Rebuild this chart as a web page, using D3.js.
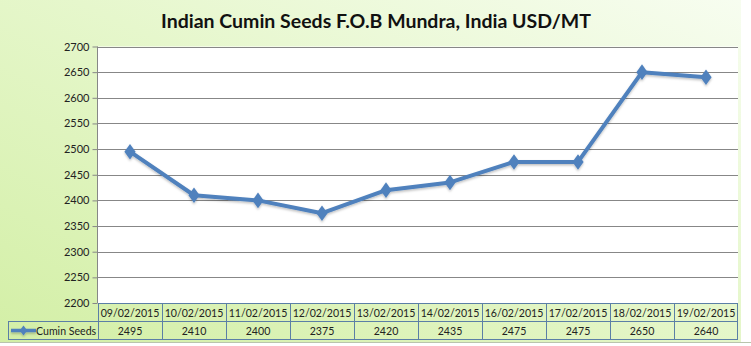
<!DOCTYPE html>
<html>
<head>
<meta charset="utf-8">
<title>Indian Cumin Seeds</title>
<script src="https://d3js.org/d3.v7.min.js"></script>
<style>
  body{margin:0;padding:0;background:#fff;}
  svg{display:block;font-family:Lato,"Open Sans",sans-serif;}
</style>
</head>
<body>
<div id="chart"></div>
<script>
// data
var dates = ["09/02/2015","10/02/2015","11/02/2015","12/02/2015","13/02/2015","14/02/2015","16/02/2015","17/02/2015","18/02/2015","19/02/2015"]
var prices = [2495,2410,2400,2375,2420,2435,2475,2475,2650,2640]
var seriesName = "Cumin Seeds"
var yTicks = [2200,2250,2300,2350,2400,2450,2500,2550,2600,2650,2700]
var title = "Indian Cumin Seeds F.O.B Mundra, India USD/MT"

var W = 751, H = 346
var plot = {left:98, right:738, top:46.5, bottom:303}
var rowH = 18
var blue = "#4f81bd"
var tableLine = "#5b7fa6"

var svg = d3.select("#chart").append("svg").attr("width",W).attr("height",H)

var defs = svg.append("defs")
var grad = defs.append("linearGradient").attr("id","bg")
    .attr("x1","0").attr("y1","1").attr("x2","1").attr("y2","0")
grad.append("stop").attr("offset","0%").attr("stop-color","#d3efa6")
grad.append("stop").attr("offset","55%").attr("stop-color","#e6f7cc")
grad.append("stop").attr("offset","100%").attr("stop-color","#f7fdf0")

var shadow = defs.append("filter").attr("id","shadow").attr("x","-10%").attr("y","-10%").attr("width","120%").attr("height","130%")
shadow.append("feDropShadow").attr("dx",0).attr("dy",1.5).attr("stdDeviation",1.2)
    .attr("flood-color","#000").attr("flood-opacity",0.25)

// background
svg.append("rect").attr("x",0).attr("y",0).attr("width",741).attr("height",342).attr("fill","url(#bg)")
svg.append("line").attr("x1",0).attr("x2",751).attr("y1",342.5).attr("y2",342.5).attr("stroke","#b9c4ad").attr("stroke-width",1)

// title
svg.append("text").attr("x",376).attr("y",28).attr("text-anchor","middle")
    .attr("font-size",19.5).attr("font-weight","bold").attr("fill","#111").text(title)

// plot area
svg.append("rect").attr("x",plot.left).attr("y",plot.top).attr("width",plot.right-plot.left).attr("height",plot.bottom-plot.top).attr("fill","#fff")

var x = d3.scaleBand().domain(dates).range([plot.left,plot.right])
var y = d3.scaleLinear().domain([2200,2700]).range([plot.bottom,plot.top])

// gridlines
svg.append("g").selectAll("line").data(yTicks).enter().append("line")
    .attr("x1",plot.left).attr("x2",plot.right)
    .attr("y1",function(d){return Math.round(y(d))+0.5})
    .attr("y2",function(d){return Math.round(y(d))+0.5})
    .attr("stroke","#878787").attr("stroke-width",1)

// y axis
var yAxis = d3.axisLeft(y).tickValues(yTicks).tickSize(5).tickPadding(3).tickFormat(d3.format("d"))
var gy = svg.append("g").attr("transform","translate("+(plot.left-0.5)+",0)").call(yAxis)
gy.select(".domain").attr("stroke","#878787").attr("d","M0,"+plot.top+"V"+plot.bottom)
gy.selectAll(".tick line").attr("stroke","#878787")
gy.selectAll(".tick text").attr("font-size",11).attr("fill","#222").attr("font-family","Lato,sans-serif")

// line + markers
var line = d3.line().x(function(d,i){return x(dates[i])+x.bandwidth()/2}).y(function(d){return y(d)})
var series = svg.append("g").attr("filter","url(#shadow)")
series.append("path").datum(prices).attr("d",line)
    .attr("fill","none").attr("stroke",blue).attr("stroke-width",4).attr("stroke-linejoin","round")
series.selectAll("path.pt").data(prices).enter().append("path").attr("class","pt")
    .attr("d",d3.symbol().type(d3.symbolDiamond).size(70))
    .attr("transform",function(d,i){return "translate("+(x(dates[i])+x.bandwidth()/2)+","+y(d)+") scale(1.25,1)"})
    .attr("fill",blue)

// data table
var table = svg.append("g")
var r1 = plot.bottom, r2 = plot.bottom+rowH, r3 = plot.bottom+2*rowH
var tleft = 8
var fs = 10.6
table.selectAll("text.date").data(dates).enter().append("text").attr("class","date")
    .attr("x",function(d){return x(d)+x.bandwidth()/2}).attr("y",r1+13.5)
    .attr("text-anchor","middle").attr("font-size",fs).attr("fill","#222").text(function(d){return d})
table.selectAll("text.val").data(prices).enter().append("text").attr("class","val")
    .attr("x",function(d,i){return x(dates[i])+x.bandwidth()/2}).attr("y",r2+13.5)
    .attr("text-anchor","middle").attr("font-size",fs).attr("fill","#222").text(function(d){return d})

// borders
table.append("rect").attr("x",plot.left+0.5).attr("y",r1+0.5).attr("width",plot.right-plot.left-1).attr("height",rowH)
    .attr("fill","none").attr("stroke",tableLine)
table.append("rect").attr("x",tleft+0.5).attr("y",r2+0.5).attr("width",plot.right-tleft-1).attr("height",rowH)
    .attr("fill","none").attr("stroke",tableLine)
table.selectAll("line.col").data(dates).enter().append("line").attr("class","col")
    .attr("x1",function(d){return Math.round(x(d))+0.5}).attr("x2",function(d){return Math.round(x(d))+0.5})
    .attr("y1",r1).attr("y2",r3+1).attr("stroke",tableLine)

// legend key inside the table
var ky = r2 + rowH/2 + 0.5
var key = table.append("g").attr("filter","url(#shadow)")
key.append("line").attr("x1",11).attr("x2",36).attr("y1",ky).attr("y2",ky).attr("stroke",blue).attr("stroke-width",3.5)
key.append("path").attr("d",d3.symbol().type(d3.symbolDiamond).size(30))
    .attr("transform","translate(23.5,"+ky+") scale(1.25,1)").attr("fill",blue)
table.append("text").attr("x",36).attr("y",r2+13.5).attr("font-size",fs).attr("fill","#222").text(seriesName)
</script>
</body>
</html>
